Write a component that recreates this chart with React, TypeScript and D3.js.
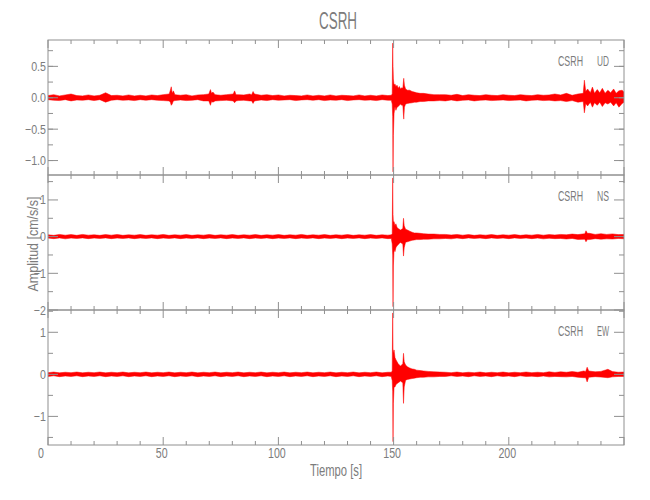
import React from 'react';
import * as d3 from 'd3';

// ---------- data ----------
const TITLE = 'CSRH';
const STATION = 'CSRH';
const COMPONENTS = ['UD', 'NS', 'EW'];
const X_LABEL = 'Tiempo [s]';
const Y_LABEL = 'Amplitud [cm/s/s]';
const X_DOMAIN = [0, 250];
const X_MAJOR = [0, 50, 100, 150, 200, 250];
const X_LABELS = [0, 50, 100, 150, 200];
const X_MINOR_STEP = 10;
const BG_STEP = 2.5; // s between background envelope samples

const UD_DOMAIN = [-1.23, 0.92];
const NS_DOMAIN = [-2.0, 1.68];
const EW_DOMAIN = [-1.68, 1.53];
const UD_MAJOR = [-1, -0.5, 0, 0.5];
const UD_MINOR = [-1, -0.75, -0.5, -0.25, 0, 0.25, 0.5, 0.75];
const NS_MAJOR = [-2, -1, 0, 1];
const NS_MINOR = [-1.5, -0.5, 0.5, 1.5];
const EW_MAJOR = [-1, 0, 1];
const EW_MINOR = [-1.5, -0.5, 0.5, 1.5];

// background envelope (upper / lower), one value every 2.5 s from 0 to 250 s
const UD_BG_HI = [
  0.035, 0.05, 0.03, 0.045, 0.06, 0.035, 0.03, 0.045, 0.03, 0.04,
  0.08, 0.035, 0.04, 0.03, 0.045, 0.03, 0.04, 0.03, 0.045, 0.035,
  0.05, 0.06, 0.05, 0.04, 0.05, 0.03, 0.045, 0.05, 0.06, 0.05,
  0.04, 0.05, 0.06, 0.05, 0.045, 0.06, 0.06, 0.04, 0.05, 0.035,
  0.045, 0.03, 0.04, 0.035, 0.03, 0.045, 0.03, 0.04, 0.03, 0.045,
  0.03, 0.04, 0.035, 0.03, 0.045, 0.03, 0.04, 0.03, 0.045, 0.035,
  0.2, 0.18, 0.15, 0.11, 0.08, 0.07, 0.06, 0.06, 0.05, 0.05,
  0.04, 0.055, 0.035, 0.05, 0.04, 0.035, 0.05, 0.04, 0.035, 0.05,
  0.04, 0.035, 0.05, 0.04, 0.035, 0.05, 0.04, 0.045, 0.06, 0.045,
  0.07, 0.04, 0.06, 0.08, 0.1, 0.08, 0.1, 0.07, 0.09, 0.08, 0.09,
];
const UD_BG_LO = [
  -0.03, -0.04, -0.045, -0.03, -0.05, -0.035, -0.04, -0.03, -0.045, -0.03,
  -0.07, -0.04, -0.03, -0.04, -0.035, -0.045, -0.03, -0.04, -0.03, -0.04,
  -0.045, -0.05, -0.05, -0.035, -0.045, -0.04, -0.03, -0.05, -0.05, -0.05,
  -0.045, -0.04, -0.05, -0.045, -0.04, -0.05, -0.05, -0.035, -0.045, -0.03,
  -0.04, -0.035, -0.03, -0.045, -0.035, -0.03, -0.04, -0.03, -0.045, -0.035,
  -0.04, -0.03, -0.045, -0.035, -0.03, -0.04, -0.035, -0.045, -0.03, -0.04,
  -0.2, -0.15, -0.12, -0.09, -0.07, -0.06, -0.06, -0.05, -0.05, -0.05,
  -0.035, -0.05, -0.04, -0.035, -0.05, -0.04, -0.035, -0.045, -0.04, -0.035,
  -0.045, -0.04, -0.035, -0.05, -0.04, -0.035, -0.045, -0.04, -0.05, -0.045,
  -0.06, -0.045, -0.07, -0.08, -0.09, -0.08, -0.1, -0.07, -0.08, -0.08, -0.07,
];
const NS_BG_HI = [
  0.05, 0.035, 0.06, 0.04, 0.055, 0.035, 0.06, 0.04, 0.05, 0.035,
  0.055, 0.04, 0.06, 0.035, 0.05, 0.04, 0.055, 0.035, 0.05, 0.04,
  0.06, 0.035, 0.05, 0.04, 0.055, 0.035, 0.05, 0.04, 0.06, 0.035,
  0.05, 0.04, 0.055, 0.035, 0.05, 0.04, 0.055, 0.035, 0.05, 0.04,
  0.055, 0.035, 0.05, 0.04, 0.06, 0.035, 0.05, 0.04, 0.055, 0.035,
  0.05, 0.04, 0.055, 0.035, 0.05, 0.04, 0.055, 0.035, 0.05, 0.04,
  0.4, 0.3, 0.2, 0.15, 0.1, 0.09, 0.08, 0.08, 0.07, 0.06,
  0.045, 0.06, 0.04, 0.055, 0.035, 0.05, 0.04, 0.055, 0.035, 0.05,
  0.04, 0.055, 0.035, 0.05, 0.04, 0.06, 0.04, 0.055, 0.045, 0.06,
  0.05, 0.07, 0.055, 0.08, 0.09, 0.06, 0.08, 0.06, 0.075, 0.055, 0.06,
];
const NS_BG_LO = [
  -0.04, -0.055, -0.035, -0.06, -0.04, -0.05, -0.035, -0.055, -0.04, -0.05,
  -0.035, -0.055, -0.04, -0.05, -0.035, -0.055, -0.04, -0.05, -0.035, -0.055,
  -0.04, -0.05, -0.035, -0.055, -0.04, -0.05, -0.035, -0.055, -0.04, -0.05,
  -0.035, -0.055, -0.04, -0.05, -0.035, -0.055, -0.04, -0.05, -0.035, -0.055,
  -0.04, -0.05, -0.035, -0.055, -0.04, -0.05, -0.035, -0.055, -0.04, -0.05,
  -0.035, -0.055, -0.04, -0.05, -0.035, -0.055, -0.04, -0.05, -0.035, -0.055,
  -0.4, -0.25, -0.18, -0.14, -0.1, -0.08, -0.08, -0.07, -0.07, -0.05,
  -0.06, -0.04, -0.055, -0.035, -0.05, -0.04, -0.055, -0.035, -0.05, -0.04,
  -0.055, -0.035, -0.05, -0.04, -0.055, -0.04, -0.06, -0.045, -0.055, -0.05,
  -0.065, -0.05, -0.075, -0.06, -0.08, -0.055, -0.07, -0.06, -0.065, -0.05, -0.06,
];
const EW_BG_HI = [
  0.04, 0.055, 0.035, 0.05, 0.04, 0.055, 0.035, 0.05, 0.04, 0.055,
  0.035, 0.05, 0.04, 0.055, 0.035, 0.05, 0.04, 0.055, 0.035, 0.05,
  0.04, 0.055, 0.035, 0.05, 0.04, 0.055, 0.035, 0.05, 0.04, 0.055,
  0.035, 0.05, 0.04, 0.055, 0.035, 0.05, 0.04, 0.055, 0.035, 0.05,
  0.04, 0.055, 0.035, 0.05, 0.04, 0.055, 0.035, 0.05, 0.04, 0.055,
  0.035, 0.05, 0.04, 0.055, 0.035, 0.05, 0.04, 0.055, 0.035, 0.05,
  0.5, 0.3, 0.22, 0.15, 0.1, 0.08, 0.07, 0.07, 0.06, 0.05,
  0.04, 0.055, 0.035, 0.05, 0.04, 0.055, 0.035, 0.05, 0.04, 0.055,
  0.035, 0.05, 0.04, 0.055, 0.04, 0.05, 0.04, 0.06, 0.045, 0.06,
  0.05, 0.065, 0.05, 0.08, 0.09, 0.06, 0.07, 0.055, 0.065, 0.05, 0.055,
];
const EW_BG_LO = [
  -0.05, -0.035, -0.055, -0.04, -0.05, -0.035, -0.055, -0.04, -0.05, -0.035,
  -0.055, -0.04, -0.05, -0.035, -0.055, -0.04, -0.05, -0.035, -0.055, -0.04,
  -0.05, -0.035, -0.055, -0.04, -0.05, -0.035, -0.055, -0.04, -0.05, -0.035,
  -0.055, -0.04, -0.05, -0.035, -0.055, -0.04, -0.05, -0.035, -0.055, -0.04,
  -0.05, -0.035, -0.055, -0.04, -0.05, -0.035, -0.055, -0.04, -0.05, -0.035,
  -0.055, -0.04, -0.05, -0.035, -0.055, -0.04, -0.05, -0.035, -0.055, -0.04,
  -0.3, -0.2, -0.14, -0.11, -0.08, -0.07, -0.06, -0.06, -0.06, -0.05,
  -0.035, -0.05, -0.04, -0.055, -0.035, -0.05, -0.04, -0.055, -0.035, -0.05,
  -0.04, -0.055, -0.035, -0.05, -0.045, -0.055, -0.04, -0.06, -0.05, -0.055,
  -0.06, -0.05, -0.07, -0.08, -0.06, -0.055, -0.065, -0.05, -0.06, -0.05, -0.05,
];

// detailed features: event window (148.5-170.5 s) and isolated bursts
const EVENT_WINDOW = [148.5, 170.5];
const UD_FEAT_T = [
  52.6, 53.1, 53.5, 53.9, 54.4, 55.1,
  69.8, 70.5, 71.0, 71.6,
  80.4, 81.0, 81.6, 88.4, 89.0, 89.6,
  149.0, 149.4, 149.6, 149.75, 149.9, 150.2, 150.6, 151.0, 151.5, 152.0, 152.5, 153.0, 153.5, 154.0, 154.4, 154.7, 155.2, 156, 157, 158, 159, 160, 161.5, 163, 165, 167.5, 170,
  232.3, 232.8, 233.4, 234.2, 235.4, 236.3, 237.2, 238.4, 239.5, 240.6, 241.8, 243.0, 244.2, 245.5, 246.6, 247.8, 249.2,
];
const UD_FEAT_HI = [
  0.06, 0.12, 0.175, 0.07, 0.11, 0.05,
  0.06, 0.13, 0.07, 0.09,
  0.06, 0.11, 0.05, 0.05, 0.1, 0.06,
  0.04, 0.06, 0.87, 0.5, 0.3, 0.2, 0.22, 0.18, 0.2, 0.15, 0.18, 0.14, 0.16, 0.15, 0.31, 0.2, 0.14, 0.12, 0.12, 0.1, 0.09, 0.08, 0.07, 0.07, 0.06, 0.05, 0.05,
  0.07, 0.28, 0.1, 0.14, 0.08, 0.17, 0.07, 0.13, 0.08, 0.15, 0.07, 0.12, 0.08, 0.14, 0.07, 0.11, 0.12,
];
const UD_FEAT_LO = [
  -0.05, -0.07, -0.12, -0.1, -0.05, -0.045,
  -0.05, -0.12, -0.06, -0.07,
  -0.05, -0.08, -0.05, -0.05, -0.09, -0.05,
  -0.04, -0.1, -0.3, -1.18, -0.6, -0.25, -0.14, -0.2, -0.15, -0.14, -0.12, -0.1, -0.12, -0.12, -0.34, -0.15, -0.1, -0.09, -0.085, -0.08, -0.07, -0.07, -0.06, -0.06, -0.05, -0.05, -0.045,
  -0.06, -0.24, -0.09, -0.13, -0.07, -0.15, -0.08, -0.12, -0.07, -0.14, -0.08, -0.1, -0.07, -0.13, -0.08, -0.15, -0.09,
];

const NS_FEAT_T = [149.0, 149.4, 149.6, 149.75, 149.9, 150.2, 150.6, 151.0, 151.5, 152.0, 152.5, 153.0, 153.5, 154.0, 154.3, 154.6, 155.2, 156, 157, 158, 159, 160, 161.5, 163, 165, 167.5, 170, 233.0, 233.5, 234.1];
const NS_FEAT_HI = [0.05, 0.08, 1.6, 0.6, 0.4, 0.41, 0.3, 0.35, 0.25, 0.22, 0.2, 0.18, 0.2, 0.22, 0.5, 0.3, 0.2, 0.18, 0.15, 0.12, 0.1, 0.1, 0.09, 0.08, 0.07, 0.07, 0.06, 0.08, 0.16, 0.09];
const NS_FEAT_LO = [-0.05, -0.2, -0.5, -1.91, -0.8, -0.35, -0.41, -0.3, -0.25, -0.22, -0.18, -0.16, -0.18, -0.2, -0.53, -0.3, -0.15, -0.14, -0.12, -0.1, -0.09, -0.08, -0.08, -0.07, -0.07, -0.06, -0.06, -0.07, -0.14, -0.08];

const EW_FEAT_T = [149.0, 149.4, 149.6, 149.75, 149.9, 150.2, 150.6, 151.0, 151.5, 152.0, 152.5, 153.0, 153.5, 154.0, 154.3, 154.6, 155.2, 156, 157, 158, 159, 160, 161.5, 163, 165, 167.5, 170, 233.4, 234, 234.7, 243];
const EW_FEAT_HI = [0.05, 0.08, 1.46, 0.6, 0.5, 0.58, 0.4, 0.35, 0.3, 0.25, 0.22, 0.2, 0.22, 0.25, 0.5, 0.3, 0.22, 0.18, 0.15, 0.13, 0.12, 0.1, 0.09, 0.08, 0.07, 0.06, 0.055, 0.07, 0.17, 0.08, 0.12];
const EW_FEAT_LO = [-0.05, -0.15, -0.4, -1.6, -0.7, -0.3, -0.3, -0.25, -0.22, -0.2, -0.18, -0.16, -0.18, -0.2, -0.69, -0.3, -0.14, -0.12, -0.11, -0.1, -0.09, -0.08, -0.07, -0.07, -0.06, -0.06, -0.05, -0.08, -0.18, -0.07, -0.08];

// ---------- layout / style ----------
const W = 650;
const H = 500;
const LEFT = 48;
const RIGHT = 624;
const TOP = 40;
const PANEL_H = 135;
const AXIS = '#909090';
const TEXT = '#7c7c7c';
const TRACE = '#ff0000';
const FONT = "'Liberation Sans', Arial, sans-serif";

type Pt = [number, number, number];

function buildTrace(bgHi: number[], bgLo: number[], fT: number[], fHi: number[], fLo: number[]): Pt[] {
  const pts: Pt[] = [];
  bgHi.forEach((h, i) => {
    const t = i * BG_STEP;
    if (t >= EVENT_WINDOW[0] && t <= EVENT_WINDOW[1]) return;
    if (fT.some((ft) => Math.abs(ft - t) < 0.6)) return;
    pts.push([t, h, bgLo[i]]);
  });
  fT.forEach((t, i) => pts.push([t, fHi[i], fLo[i]]));
  pts.sort((a, b) => a[0] - b[0]);
  return pts;
}

const minus = (s: string) => s.replace('-', '\u2212');

const PANELS = [
  { comp: COMPONENTS[0], domain: UD_DOMAIN, major: UD_MAJOR, minor: UD_MINOR, fmt: (v: number) => minus(d3.format('.1f')(v)), data: buildTrace(UD_BG_HI, UD_BG_LO, UD_FEAT_T, UD_FEAT_HI, UD_FEAT_LO) },
  { comp: COMPONENTS[1], domain: NS_DOMAIN, major: NS_MAJOR, minor: NS_MINOR, fmt: (v: number) => minus(String(v)), data: buildTrace(NS_BG_HI, NS_BG_LO, NS_FEAT_T, NS_FEAT_HI, NS_FEAT_LO) },
  { comp: COMPONENTS[2], domain: EW_DOMAIN, major: EW_MAJOR, minor: EW_MINOR, fmt: (v: number) => minus(String(v)), data: buildTrace(EW_BG_HI, EW_BG_LO, EW_FEAT_T, EW_FEAT_HI, EW_FEAT_LO) },
];

function NText(props: { x: number; y: number; sx: number; size: number; anchor?: string; children: React.ReactNode }) {
  const { x, y, sx, size, anchor = 'start', children } = props;
  return (
    <text transform={`translate(${x},${y}) scale(${sx},1)`} textAnchor={anchor as any} fontSize={size} fill={TEXT}>
      {children}
    </text>
  );
}

export default function App() {
  const x = d3.scaleLinear().domain(X_DOMAIN).range([LEFT, RIGHT]);
  const xMinor = d3.range(X_DOMAIN[0], X_DOMAIN[1] + 0.001, X_MINOR_STEP);
  const bottom = TOP + PANEL_H * PANELS.length;

  return (
    <svg width={W} height={H} style={{ position: 'absolute', left: 0, top: 0, display: 'block', background: '#fff' }} fontFamily={FONT}>
      <defs>
        {PANELS.map((p, i) => (
          <clipPath id={`clip${i}`} key={i}>
            <rect x={LEFT} y={TOP + i * PANEL_H} width={RIGHT - LEFT} height={PANEL_H} />
          </clipPath>
        ))}
      </defs>
      <text x={338} y={29} textAnchor="middle" fontSize={24} fill={TEXT} textLength={38} lengthAdjust="spacingAndGlyphs">{TITLE}</text>
      {PANELS.map((p, i) => {
        const y0 = TOP + i * PANEL_H;
        const y1 = y0 + PANEL_H;
        const y = d3.scaleLinear().domain(p.domain).range([y1, y0]);
        const area = d3.area<Pt>().x((d) => x(d[0])).y0((d) => y(d[2])).y1((d) => y(d[1]));
        return (
          <g key={p.comp}>
            <g clipPath={`url(#clip${i})`}>
              <path d={area(p.data) || ''} fill={TRACE} stroke={TRACE} strokeWidth={0.5} strokeLinejoin="round" />
            </g>
            <rect x={LEFT} y={y0} width={RIGHT - LEFT} height={PANEL_H} fill="none" stroke={AXIS} strokeWidth={1} />
            {xMinor.map((v) => {
              const len = X_MAJOR.includes(v) ? 8 : 4;
              return (
                <g key={`xt${v}`} stroke={AXIS} strokeWidth={1}>
                  <line x1={x(v)} x2={x(v)} y1={y0} y2={y0 + len} />
                  <line x1={x(v)} x2={x(v)} y1={y1} y2={y1 - len} />
                </g>
              );
            })}
            {p.minor.map((v) => (
              <g key={`ym${v}`} stroke={AXIS} strokeWidth={1}>
                <line x1={LEFT} x2={LEFT + 5} y1={y(v)} y2={y(v)} />
                <line x1={RIGHT} x2={RIGHT - 5} y1={y(v)} y2={y(v)} />
              </g>
            ))}
            {p.major.map((v) => (
              <g key={`yM${v}`}>
                <line x1={LEFT} x2={LEFT + 10} y1={y(v)} y2={y(v)} stroke={AXIS} strokeWidth={1} />
                <line x1={RIGHT} x2={RIGHT - 10} y1={y(v)} y2={y(v)} stroke={AXIS} strokeWidth={1} />
                <NText x={LEFT - 2} y={y(v) + 4.5} sx={0.82} size={13} anchor="end">{p.fmt(v)}</NText>
              </g>
            ))}
            <text x={558} y={y0 + 26} fontSize={14} fill={TEXT} textLength={25} lengthAdjust="spacingAndGlyphs">{STATION}</text>
            <text x={597} y={y0 + 26} fontSize={14} fill={TEXT} textLength={12} lengthAdjust="spacingAndGlyphs">{p.comp}</text>
          </g>
        );
      })}
      {X_LABELS.map((v) => (
        <NText key={`xl${v}`} x={v === 0 ? x(v) - 4 : x(v) - 1.5} y={bottom + 13} sx={0.76} size={14} anchor={v === 0 ? 'end' : 'middle'}>{v}</NText>
      ))}
      <text x={336} y={bottom + 31} textAnchor="middle" fontSize={16} fill={TEXT} textLength={52} lengthAdjust="spacingAndGlyphs">{X_LABEL}</text>
      <text transform={`translate(38, 244) rotate(-90)`} textAnchor="middle" fontSize={15} fill={TEXT} textLength={95} lengthAdjust="spacingAndGlyphs">{Y_LABEL}</text>
    </svg>
  );
}
